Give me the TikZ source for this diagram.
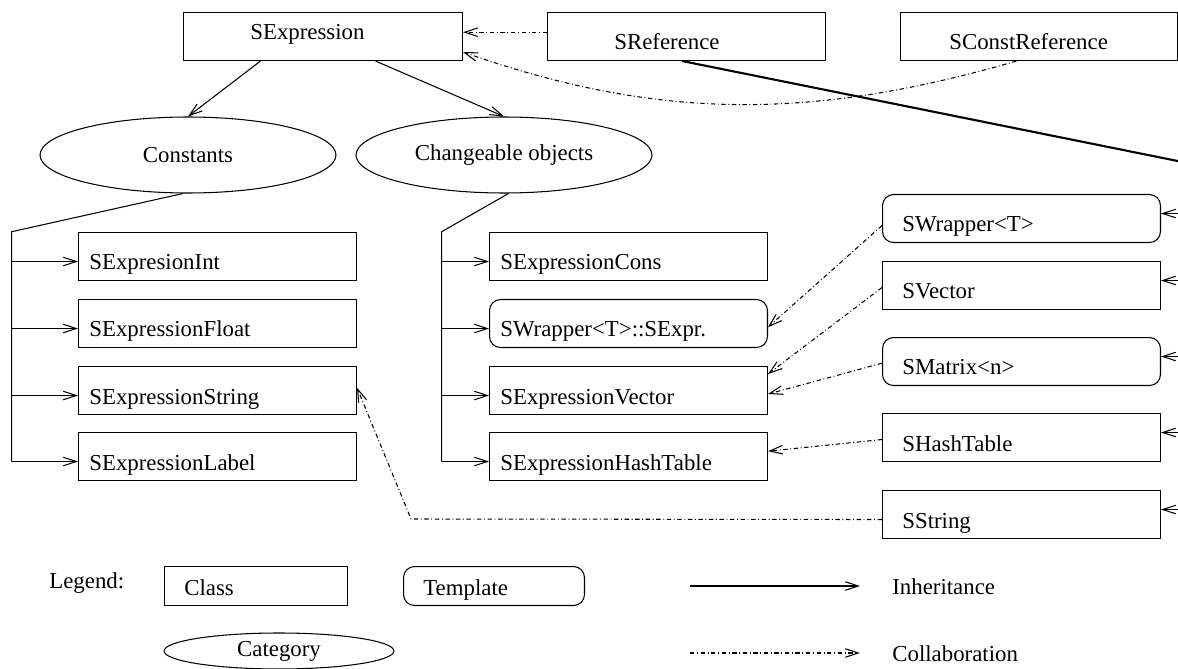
\documentclass[tikz,border=0pt]{standalone}
\usepackage{fontspec}
\setmainfont{Liberation Serif}
\usetikzlibrary{arrows.meta,shapes.geometric,calc}
\begin{document}
\begin{tikzpicture}[x=0.02cm,y=-0.02cm,
  every node/.style={font=\fontsize{13pt}{15pt}\selectfont},
  cls/.style={draw, line width=0.6pt, minimum width=5.56cm, minimum height=0.96cm, inner sep=0pt, anchor=north west},
  tpl/.style={cls, rounded corners=0.22cm},
  cat/.style={draw, line width=0.6pt, ellipse, inner sep=0pt},
  txt/.style={anchor=base west, inner sep=0pt},
  inh/.style={line width=0.6pt, -{Straight Barb[length=0.26cm,width=0.17cm]}},
  col/.style={inh, dash pattern=on 2.5pt off 1.5pt on 0.5pt off 1.5pt},
  thick line/.style={line width=1.2pt},
]
\useasboundingbox (0,0) rectangle (1178,669);
\clip (0,0) rectangle (1178,669);

% top row
\node[cls, minimum width=5.58cm] (sexpr) at (183,12) {};
\node[txt] (sexprT) at (250,40) {SExpression};
\node[cls] (sref) at (547,12) {};
\node[txt] (srefT) at (614,50) {SReference};
\node[cls, minimum width=5.54cm] (scref) at (900,12) {};
\node[txt] (screfT) at (949,50) {SConstReference};

% categories
\node[cat, minimum width=5.92cm, minimum height=1.52cm] (const) at (188,155) {Constants};
\node[cat, minimum width=5.92cm, minimum height=1.52cm] (chg) at (504,155) {Changeable objects};

% column 1
\node[cls] (sint) at (78,232) {};
\node[txt] (sintT) at (89,270) {SExpresionInt};
\node[cls] (sfloat) at (78,299) {};
\node[txt] (sfloatT) at (89,337) {SExpressionFloat};
\node[cls] (sstring) at (78,366) {};
\node[txt] (sstringT) at (89,404) {SExpressionString};
\node[cls] (slabel) at (78,432) {};
\node[txt] (slabelT) at (89,470) {SExpressionLabel};

% column 2
\node[cls] (scons) at (489,232) {};
\node[txt] (sconsT) at (500,270) {SExpressionCons};
\node[tpl] (swse) at (489,299) {};
\node[txt] (swseT) at (500,337) {SWrapper<T>::SExpr.};
\node[cls] (svec) at (489,366) {};
\node[txt] (svecT) at (500,404) {SExpressionVector};
\node[cls] (shash) at (489,432) {};
\node[txt] (shashT) at (500,470) {SExpressionHashTable};

% right column
\node[tpl] (swrap) at (882,194) {};
\node[txt] (swrapT) at (902,232) {SWrapper<T>};
\node[cls] (svector) at (882,261) {};
\node[txt] (svectorT) at (902,298) {SVector};
\node[tpl] (smatrix) at (882,337) {};
\node[txt] (smatrixT) at (902,375) {SMatrix<n>};
\node[cls] (shtab) at (882,413) {};
\node[txt] (shtabT) at (902,451) {SHashTable};
\node[cls] (sstr) at (882,490) {};
\node[txt] (sstrT) at (902,528) {SString};

% legend
\node[txt] (legT) at (49,588) {Legend:};
\node[cls, minimum width=3.66cm, minimum height=0.78cm] (lclass) at (164,566) {};
\node[txt] (lclassT) at (184,595) {Class};
\node[tpl, minimum width=3.62cm, minimum height=0.78cm] (ltpl) at (403,566) {};
\node[txt] (ltplT) at (423,595) {Template};
\node[cat, minimum width=4.6cm, minimum height=0.72cm] (lcat) at (279,651) {Category};
\coordinate (li1) at (690,586);
\coordinate (li2) at (860,586);
\draw[inh] (li1) -- (li2);
\node[txt] (linhT) at (892,594) {Inheritance};
\coordinate (lc1) at (690,653);
\coordinate (lc2) at (860,653);
\draw[col] (lc1) -- (lc2);
\node[txt] (lcolT) at (892,661) {Collaboration};

% inheritance from SExpression
\draw[inh] ([xshift=-1.25cm]sexpr.south) -- (const.north);
\draw[inh] ([xshift=1.05cm]sexpr.south) -- (chg.north);

% tree column 1
\coordinate (c1) at (11.7,231.7);
\coordinate (a1) at ([yshift=-0.1cm]sint.west);
\coordinate (a2) at ([yshift=-0.1cm]sfloat.west);
\coordinate (a3) at ([yshift=-0.1cm]sstring.west);
\coordinate (a4) at ([yshift=-0.1cm]slabel.west);
\draw[line width=0.6pt] ([xshift=-0.1cm]const.south) -- (c1) -- (c1 |- a4);
\foreach \a in {a1,a2,a3,a4} \draw[inh] (c1 |- \a) -- (\a);

% tree column 2
\coordinate (c2) at (441.7,231.7);
\coordinate (b1) at ([yshift=-0.1cm]scons.west);
\coordinate (b2) at ([yshift=-0.1cm]swse.west);
\coordinate (b3) at ([yshift=-0.1cm]svec.west);
\coordinate (b4) at ([yshift=-0.1cm]shash.west);
\draw[line width=0.6pt] ([xshift=0.09cm]chg.south) -- (c2) -- (c2 |- b4);
\foreach \b in {b1,b2,b3,b4} \draw[inh] (c2 |- \b) -- (\b);

% references
\draw[col] ([yshift=0.086cm]sref.west) -- ([yshift=0.086cm]sexpr.east);
\draw[col] ([xshift=-0.45cm]scref.south) .. controls (816,119) and (662,122) .. ([yshift=-0.31cm]sexpr.east);
\coordinate (offR) at (1200,165.5);
\draw[thick line] ([xshift=-0.086cm]sref.south) -- (offR);

% incoming inheritance on the right
\coordinate (edge) at (1200,0);
\foreach \n in {swrap,svector,smatrix,shtab,sstr} {
  \coordinate (\n-in) at ([yshift=0.1cm]\n.east);
  \draw[inh] (\n-in -| edge) -- (\n-in);
}

% collaborations
\draw[col] ([yshift=-0.14cm]swrap.west) -- ([yshift=-0.074cm]swse.east);
\draw[col] ([yshift=-0.04cm]svector.west) -- ([yshift=0.33cm]svec.east);
\draw[col] ([yshift=-0.034cm]smatrix.west) -- ([yshift=-0.07cm]svec.east);
\draw[col] ([yshift=-0.04cm]shtab.west) -- ([yshift=0.106cm]shash.east);
\coordinate (bend) at (411,519);
\draw[col] ([yshift=-0.1cm]sstr.west) -- (bend) -- ([yshift=0.056cm]sstring.east);
\end{tikzpicture}
\end{document}
